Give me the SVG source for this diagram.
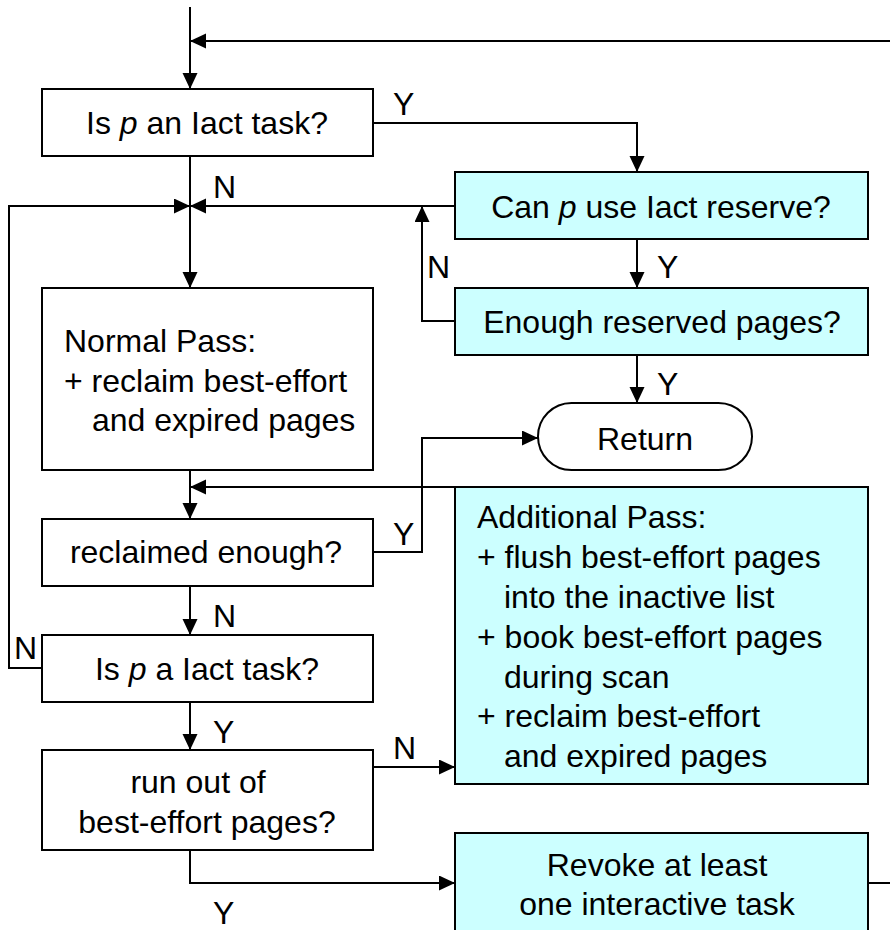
<svg xmlns="http://www.w3.org/2000/svg" width="890" height="930" viewBox="0 0 890 930">
<style>
.box{fill:#ffffff;stroke:#000;stroke-width:2}
.cy{fill:#ccffff;stroke:#000;stroke-width:2}
.ln{fill:none;stroke:#000;stroke-width:2}
.ar{fill:none;stroke:#000;stroke-width:2;marker-end:url(#ah)}
text{font-family:"Liberation Sans",Arial,sans-serif;font-size:32px;fill:#000}
.c{text-anchor:middle}
.i{font-style:italic}
</style>
<defs>
<marker id="ah" markerUnits="userSpaceOnUse" markerWidth="17" markerHeight="16" refX="16" refY="7.5" orient="auto">
<path d="M0,0 L16,7.5 L0,15 z" fill="#000"/>
</marker>
</defs>
<rect width="890" height="930" fill="#fff"/>
<g id="connectors">
<path class="ar" d="M190,7 L190,89"/>
<path class="ar" d="M890,41 L190,41"/>
<path class="ar" d="M373,123 L637,123 L637,172"/>
<path class="ar" d="M190,156 L190,288"/>
<path class="ar" d="M455,206 L190,206"/>
<path class="ar" d="M42,668 L9,668 L9,206 L190,206"/>
<path class="ar" d="M455,321 L422,321 L422,206"/>
<path class="ar" d="M637,239 L637,288"/>
<path class="ar" d="M637,355 L637,403"/>
<path class="ar" d="M190,470 L190,519"/>
<path class="ar" d="M455,487 L190,487"/>
<path class="ar" d="M373,552 L422,552 L422,438 L538,438"/>
<path class="ar" d="M190,586 L190,635"/>
<path class="ar" d="M190,702 L190,750"/>
<path class="ar" d="M373,767 L455,767"/>
<path class="ar" d="M190,850 L190,883 L455,883"/>
<path class="ln" d="M868,883 L890,883"/>
<text x="393" y="115">Y</text>
<text x="213" y="198">N</text>
<text x="427" y="278">N</text>
<text x="657" y="278">Y</text>
<text x="657" y="395">Y</text>
<text x="393" y="545">Y</text>
<text x="213" y="627">N</text>
<text x="14" y="659">N</text>
<text x="213" y="743">Y</text>
<text x="393" y="759">N</text>
<text x="213" y="924">Y</text>
</g>
<g id="n-iact1">
<rect class="box" x="42" y="89" width="331" height="67"/>
<text class="c" x="207" y="134">Is <tspan class="i">p</tspan> an Iact task?</text>
</g>
<g id="n-reserve">
<rect class="cy" x="455" y="172" width="413" height="67"/>
<text class="c" x="661" y="218">Can <tspan class="i">p</tspan> use Iact reserve?</text>
</g>
<g id="n-enough">
<rect class="cy" x="455" y="288" width="413" height="67"/>
<text class="c" x="662" y="333">Enough reserved pages?</text>
</g>
<g id="n-return">
<rect class="box" x="538" y="403" width="214" height="67" rx="33.5" ry="33.5"/>
<text class="c" x="645" y="450">Return</text>
</g>
<g id="n-normal">
<rect class="box" x="42" y="288" width="331" height="182"/>
<text x="64" y="352">Normal Pass:</text>
<text x="64" y="392">+ reclaim best-effort</text>
<text x="92" y="431">and expired pages</text>
</g>
<g id="n-reclaimed">
<rect class="box" x="42" y="519" width="331" height="67"/>
<text class="c" x="206" y="563">reclaimed enough?</text>
</g>
<g id="n-iact2">
<rect class="box" x="42" y="635" width="331" height="67"/>
<text class="c" x="207" y="680">Is <tspan class="i">p</tspan> a Iact task?</text>
</g>
<g id="n-runout">
<rect class="box" x="42" y="750" width="331" height="100"/>
<text class="c" x="198" y="793">run out of</text>
<text class="c" x="207" y="833">best-effort pages?</text>
</g>
<g id="n-additional">
<rect class="cy" x="455" y="487" width="413" height="297"/>
<text x="477" y="528">Additional Pass:</text>
<text x="477" y="568">+ flush best-effort pages</text>
<text x="504" y="608">into the inactive list</text>
<text x="477" y="648">+ book best-effort pages</text>
<text x="504" y="688">during scan</text>
<text x="477" y="727">+ reclaim best-effort</text>
<text x="504" y="767">and expired pages</text>
</g>
<g id="n-revoke">
<rect class="cy" x="455" y="833" width="413" height="120"/>
<text class="c" x="657" y="876">Revoke at least</text>
<text class="c" x="657" y="915">one interactive task</text>
</g>
</svg>
